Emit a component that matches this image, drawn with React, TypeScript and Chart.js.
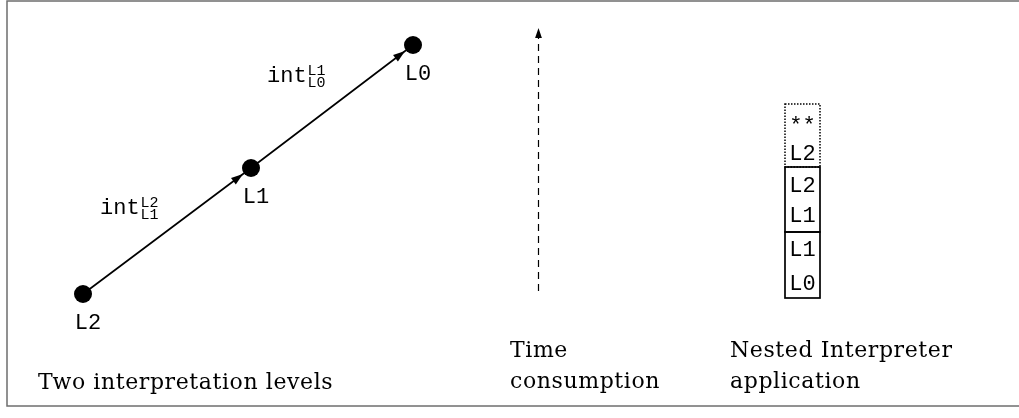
import { useEffect, useRef } from 'react';
import { Chart, registerables } from 'chart.js';

Chart.register(...registerables);

// Interpretation levels (nodes of the left diagram)
const levelLabels = ['L2', 'L1', 'L0'];
const levelX = [83, 251, 413];
const levelY = [294, 168, 45];

// Interpreter labels on the two edges: int^{sup}_{sub}
const interpBase = ['int', 'int'];
const interpSup = ['L2', 'L1'];
const interpSub = ['L1', 'L0'];
const interpX = [100, 267];
const interpY = [214, 82];

// Time axis (dashed arrow)
const timeAxisX = [538.5, 538.5];
const timeAxisY = [291, 28];

// Nested interpreter stack
const stackCells = ['**', 'L2', 'L2', 'L1', 'L1', 'L0'];
const stackCellY = [132, 160, 192, 222, 256, 290];
const stackBoxTop = [104, 167, 232];
const stackBoxBottom = [167, 232, 298];
const stackBoxDotted = [true, false, false];
const stackLeft = 785;
const stackRight = 820;

// Captions
const captionText = [
  ['Two interpretation levels'],
  ['Time', 'consumption'],
  ['Nested Interpreter', 'application'],
];
const captionX = [38, 510, 730];
const captionY = [[389], [357, 388], [357, 388]];

const MONO = '"Liberation Mono", "DejaVu Sans Mono", monospace';
const SERIF = '"DejaVu Serif", serif';

function arrowHead(ctx: CanvasRenderingContext2D, tipX: number, tipY: number, dx: number, dy: number, len: number, half: number) {
  const bx = tipX - dx * len;
  const by = tipY - dy * len;
  const nx = -dy;
  const ny = dx;
  ctx.beginPath();
  ctx.moveTo(tipX, tipY);
  ctx.lineTo(bx + nx * half, by + ny * half);
  ctx.lineTo(bx - nx * half, by - ny * half);
  ctx.closePath();
  ctx.fill();
}

const diagramPlugin = {
  id: 'diagram',
  afterDatasetsDraw(chart: any) {
    const ctx: CanvasRenderingContext2D = chart.ctx;
    const xs = chart.scales.x;
    const ys = chart.scales.y;
    const px = (v: number) => xs.getPixelForValue(v);
    const py = (v: number) => ys.getPixelForValue(v);
    ctx.save();
    ctx.fillStyle = '#000';
    ctx.strokeStyle = '#000';

    // frame
    ctx.save();
    ctx.strokeStyle = '#6e6e6e';
    ctx.lineWidth = 1.5;
    ctx.strokeRect(px(7), py(1), px(1030) - px(7), py(406) - py(1));
    ctx.restore();

    // arrowheads on level edges
    const pointRadius = 9;
    for (let i = 0; i < levelX.length - 1; i++) {
      const x0 = px(levelX[i]), y0 = py(levelY[i]);
      const x1 = px(levelX[i + 1]), y1 = py(levelY[i + 1]);
      const L = Math.hypot(x1 - x0, y1 - y0);
      const dx = (x1 - x0) / L, dy = (y1 - y0) / L;
      arrowHead(ctx, x1 - dx * (pointRadius + 1), y1 - dy * (pointRadius + 1), dx, dy, 12, 4);
    }

    // time axis arrowhead
    {
      const x0 = px(timeAxisX[0]), y0 = py(timeAxisY[0]);
      const x1 = px(timeAxisX[1]), y1 = py(timeAxisY[1]);
      const L = Math.hypot(x1 - x0, y1 - y0);
      arrowHead(ctx, x1, y1, (x1 - x0) / L, (y1 - y0) / L, 10, 3.4);
    }

    // level labels
    ctx.font = `22px ${MONO}`;
    ctx.textAlign = 'center';
    ctx.textBaseline = 'alphabetic';
    levelLabels.forEach((t, i) => {
      ctx.fillText(t, px(levelX[i]) + 5, py(levelY[i]) + 35);
    });

    // interpreter labels
    ctx.textAlign = 'left';
    interpBase.forEach((t, i) => {
      const x = px(interpX[i]);
      const y = py(interpY[i]);
      ctx.font = `22px ${MONO}`;
      ctx.fillText(t, x, y);
      const w = ctx.measureText(t).width;
      ctx.font = `15px ${MONO}`;
      ctx.fillText(interpSup[i], x + w + 1, y - 7);
      ctx.fillText(interpSub[i], x + w + 1, y + 5);
    });

    // stack boxes
    const bl = px(stackLeft), br = px(stackRight);
    stackBoxTop.forEach((top, i) => {
      if (!stackBoxDotted[i]) return;
      ctx.save();
      ctx.lineWidth = 1.5;
      ctx.setLineDash([1.5, 1.5]);
      ctx.strokeRect(bl, py(top), br - bl, py(stackBoxBottom[i]) - py(top));
      ctx.restore();
    });
    stackBoxTop.forEach((top, i) => {
      if (stackBoxDotted[i]) return;
      ctx.save();
      ctx.lineWidth = 1.7;
      ctx.strokeRect(bl, py(top), br - bl, py(stackBoxBottom[i]) - py(top));
      ctx.restore();
    });
    ctx.font = `22px ${MONO}`;
    ctx.textAlign = 'center';
    stackCells.forEach((t, i) => {
      ctx.fillText(t, (bl + br) / 2, py(stackCellY[i]));
    });

    // captions
    ctx.font = `22px ${SERIF}`;
    (ctx as any).letterSpacing = '0.6px';
    ctx.textAlign = 'left';
    captionText.forEach((lines, i) => {
      lines.forEach((line, j) => {
        ctx.fillText(line, px(captionX[i]), py(captionY[i][j]));
      });
    });
    (ctx as any).letterSpacing = '0px';

    ctx.restore();
  },
};

export default function App() {
  const ref = useRef<HTMLCanvasElement | null>(null);
  useEffect(() => {
    if (!ref.current) return;
    const chart = new Chart(ref.current, {
      type: 'scatter',
      data: {
        datasets: [
          {
            label: 'levels',
            data: levelX.map((x, i) => ({ x, y: levelY[i] })),
            showLine: true,
            borderColor: '#000',
            borderWidth: 1.7,
            pointRadius: 9,
            pointHoverRadius: 9,
            pointBackgroundColor: '#000',
            pointBorderColor: '#000',
            pointBorderWidth: 0,
          },
          {
            label: 'time',
            data: timeAxisX.map((x, i) => ({ x, y: timeAxisY[i] })),
            showLine: true,
            borderColor: '#000',
            borderWidth: 1.2,
            borderDash: [7, 5],
            pointRadius: 0,
          },
        ],
      },
      options: {
        animation: false,
        responsive: false,
        maintainAspectRatio: false,
        events: [],
        layout: { padding: 0, autoPadding: false },
        scales: {
          x: { type: 'linear', min: 0, max: 1019, display: false },
          y: { type: 'linear', min: 0, max: 418, reverse: true, display: false },
        },
        plugins: {
          legend: { display: false },
          tooltip: { enabled: false },
        },
      },
      plugins: [diagramPlugin],
    });
    return () => chart.destroy();
  }, []);
  return (
    <div style={{ position: 'fixed', left: 0, top: 0, width: 1019, height: 418, background: '#fff' }}>
      <canvas ref={ref} width={1019} height={418} style={{ display: 'block' }} />
    </div>
  );
}
